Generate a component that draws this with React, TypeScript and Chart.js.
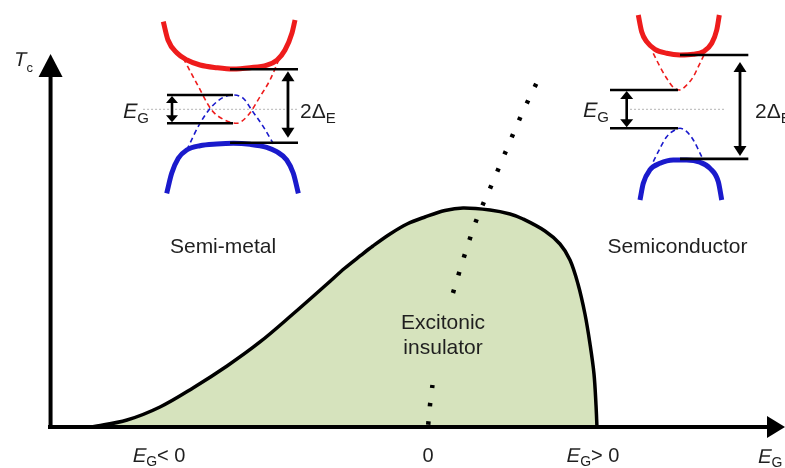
import React, { useEffect, useRef } from 'react';
import { Chart, registerables } from 'chart.js';

Chart.register(...registerables);

const FONT = '"Liberation Sans", Arial, Helvetica, sans-serif';
const INK = '#1f1f1f';
const RED = '#ee1c1c';
const BLUE = '#1a1acc';
const DOME_FILL = '#d6e3bd';

// ---- Phase diagram: T_c (normalised to the dome maximum) versus band gap E_G ----
const domeEG = [
  -2.1, -1.881, -1.675, -1.469, -1.256, -1.05, -0.844, -0.631, -0.519, -0.425,
  -0.344, -0.2375, -0.131, -0.019, 0.106, 0.219, 0.3875, 0.5125, 0.594, 0.731,
  0.825, 0.8875, 0.9375, 0.981, 1.0125, 1.0375, 1.05, 1.056,
];
const domeTc = [
  0, 0.0318, 0.0909, 0.1773, 0.2773, 0.3864, 0.5136, 0.65, 0.7227, 0.7773,
  0.8227, 0.8773, 0.9227, 0.9545, 0.9841, 0.9955, 0.9864, 0.9682, 0.9455, 0.8909,
  0.8318, 0.7591, 0.65, 0.5136, 0.3773, 0.2409, 0.1, 0,
];

// Crossover line (dotted), interrupted around the "Excitonic insulator" caption
const crossLowEG = [0, 0.0125, 0.028];
const crossLowTc = [0, 0.1, 0.191];
const crossHighEG = [0.156, 0.225, 0.3, 0.394, 0.4875, 0.581, 0.6875];
const crossHighTc = [0.609, 0.773, 0.936, 1.095, 1.255, 1.414, 1.577];

// Horizontal axis ticks: [symbol, subscript, rest]
const axisTickValues = [-1.684, 0, 1.028];
const axisTickLabels = [
  ['E', 'G', '< 0'],
  ['', '', '0'],
  ['E', 'G', '> 0'],
];

// ---- Inset band structures: energy E versus momentum k ----
// Semi-metal (negative gap)
const smCondK = [-1.041, -0.97, -0.833, -0.682, -0.485, -0.227, 0.015, 0.273, 0.53, 0.682, 0.803, 0.909, 0.955];
const smCondE = [2.368, 1.873, 1.522, 1.332, 1.197, 1.124, 1.089, 1.124, 1.197, 1.332, 1.603, 2.062, 2.414];
const smValK = [-0.989, -0.914, -0.814, -0.686, -0.485, -0.232, 0.02, 0.273, 0.526, 0.677, 0.829, 0.929, 1.005];
const smValE = [-2.27, -1.73, -1.324, -1.1, -0.984, -0.938, -0.919, -0.946, -1.027, -1.146, -1.37, -1.73, -2.27];
const smBareCondK = [-0.738, -0.535, -0.308, -0.132, 0.071, 0.247, 0.424, 0.576, 0.727];
const smBareCondE = [1.378, 0.703, -0.019, -0.27, -0.378, -0.154, 0.341, 0.792, 1.422];
const smBareValK = [-0.686, -0.485, -0.308, -0.132, 0.02, 0.171, 0.298, 0.474, 0.652];
const smBareValE = [-1.1, -0.378, 0.07, 0.324, 0.386, 0.297, -0.019, -0.47, -1.011];
const smGapEdges = [0.386, -0.378];
const smGapSpan = [-0.985, 0.015];
const smDeltaEdges = [1.081, -0.903];
const smDeltaSpan = [-0.03, 1.0];
const smFermiSpan = [-1.348, 0.985];

// Semiconductor (positive gap)
const scCondK = [-0.993, -0.908, -0.783, -0.575, -0.283, 0.05, 0.383, 0.633, 0.843, 0.968, 1.033];
const scCondE = [2.549, 2.097, 1.827, 1.622, 1.514, 1.468, 1.486, 1.557, 1.784, 2.143, 2.549];
const scValK = [-0.95, -0.868, -0.7, -0.45, -0.118, 0.218, 0.55, 0.8, 1.008, 1.093];
const scValE = [-2.451, -2.0, -1.635, -1.459, -1.37, -1.37, -1.432, -1.595, -1.957, -2.451];
const scBareCondK = [-0.618, -0.45, -0.283, -0.118, 0.033, 0.218, 0.383, 0.508, 0.65];
const scBareCondE = [1.514, 1.151, 0.838, 0.595, 0.522, 0.657, 0.881, 1.151, 1.468];
const scBareValK = [-0.618, -0.45, -0.283, -0.075, 0.05, 0.218, 0.383, 0.593];
const scBareValE = [-1.416, -1.054, -0.741, -0.559, -0.514, -0.605, -0.83, -1.281];
const scGapEdges = [0.522, -0.514];
const scGapSpan = [-1.7, 0.0];
const scDeltaEdges = [1.468, -1.34];
const scDeltaSpan = [0.05, 1.758];
const scFermiSpan = [-1.2, 1.175];

const pts = (xs: number[], ys: number[]) => xs.map((x, i) => ({ x, y: ys[i] }));
const hline = (span: number[], e: number) => [{ x: span[0], y: e }, { x: span[1], y: e }];

type Part = { text: string; italic?: boolean; sub?: boolean };

// Renders a run of text pieces; italic pieces are slanted with a shear so the
// look does not depend on an italic face being available.
function drawParts(
  ctx: CanvasRenderingContext2D,
  parts: Part[],
  x: number,
  y: number,
  size: number,
  subSize: number,
  subDrop: number,
  align: 'left' | 'center',
) {
  const fontOf = (p: Part) => `${p.sub ? subSize : size}px ${FONT}`;
  const widths = parts.map((p) => {
    ctx.font = fontOf(p);
    return ctx.measureText(p.text).width + (p.italic ? size * 0.06 : 0);
  });
  const total = widths.reduce((a, b) => a + b, 0);
  let cx = align === 'center' ? x - total / 2 : x;
  ctx.textAlign = 'left';
  ctx.textBaseline = 'alphabetic';
  parts.forEach((p, i) => {
    ctx.font = fontOf(p);
    const by = p.sub ? y + subDrop : y;
    if (p.italic) {
      ctx.save();
      ctx.translate(cx, by);
      ctx.transform(1, 0, -0.21, 1, 0, 0);
      ctx.fillText(p.text, 0, 0);
      ctx.restore();
    } else {
      ctx.fillText(p.text, cx, by);
    }
    cx += widths[i];
  });
}

function arrowHead(
  ctx: CanvasRenderingContext2D,
  tx: number,
  ty: number,
  ux: number,
  uy: number,
  len: number,
  half: number,
) {
  const bx = tx - ux * len;
  const by = ty - uy * len;
  ctx.beginPath();
  ctx.moveTo(tx, ty);
  ctx.lineTo(bx - uy * half, by + ux * half);
  ctx.lineTo(bx + uy * half, by - ux * half);
  ctx.closePath();
  ctx.fill();
}

function doubleArrow(
  ctx: CanvasRenderingContext2D,
  x: number,
  yTop: number,
  yBottom: number,
  len: number,
  half: number,
  width: number,
) {
  ctx.lineWidth = width;
  ctx.beginPath();
  ctx.moveTo(x, yTop + len - 1);
  ctx.lineTo(x, yBottom - len + 1);
  ctx.stroke();
  arrowHead(ctx, x, yTop, 0, -1, len, half);
  arrowHead(ctx, x, yBottom, 0, 1, len, half);
}

const overlay = {
  id: 'phaseDiagramOverlay',
  afterDatasetsDraw(chart: any) {
    const { ctx, scales } = chart;
    const X = (v: number) => scales.x.getPixelForValue(v);
    const Y = (v: number) => scales.y.getPixelForValue(v);
    const KL = (v: number) => scales.kL.getPixelForValue(v);
    const KR = (v: number) => scales.kR.getPixelForValue(v);
    const E = (v: number) => scales.e.getPixelForValue(v);

    ctx.save();
    ctx.fillStyle = '#000';
    ctx.strokeStyle = '#000';
    ctx.lineCap = 'butt';

    // Main axes with arrow heads
    const y0 = Y(0);
    const xAxisEnd = X(2.23125);
    ctx.lineWidth = 4;
    ctx.beginPath();
    ctx.moveTo(X(-2.375), y0);
    ctx.lineTo(xAxisEnd - 17, y0);
    ctx.stroke();
    arrowHead(ctx, xAxisEnd, y0, 1, 0, 18, 11);

    const yAxisX = X(-2.359);
    const yAxisTop = Y(1.695);
    ctx.beginPath();
    ctx.moveTo(yAxisX, y0 + 2);
    ctx.lineTo(yAxisX, yAxisTop + 22);
    ctx.stroke();
    arrowHead(ctx, yAxisX, yAxisTop, 0, -1, 23, 12);

    // Gap and hybridisation-gap arrows in the insets
    doubleArrow(ctx, KL(-0.909), E(smGapEdges[0]) + 1, E(smGapEdges[1]) - 1, 7, 6, 2.6);
    doubleArrow(ctx, KL(0.848), E(smDeltaEdges[0]) + 2, E(smDeltaEdges[1]) - 5, 10, 6.5, 2.8);
    doubleArrow(ctx, KR(-1.283), E(scGapEdges[0]) + 1, E(scGapEdges[1]) - 1, 8, 6.5, 2.6);
    doubleArrow(ctx, KR(1.55), E(scDeltaEdges[0]) + 7, E(scDeltaEdges[1]) - 3, 10, 6.5, 2.8);

    // Text
    ctx.fillStyle = INK;
    drawParts(ctx, [{ text: 'T', italic: true }, { text: 'c', sub: true }], X(-2.594), Y(1.641), 20, 13, 6, 'left');
    drawParts(ctx, [{ text: 'E', italic: true }, { text: 'G', sub: true }], X(2.056), Y(-0.164), 20, 14, 4, 'left');
    axisTickValues.forEach((v, i) => {
      const [sym, sub, rest] = axisTickLabels[i];
      const parts: Part[] = [];
      if (sym) parts.push({ text: sym, italic: true });
      if (sub) parts.push({ text: sub, sub: true });
      parts.push({ text: rest });
      drawParts(ctx, parts, X(v), Y(-0.159), 20, 14, 4, 'center');
    });

    drawParts(ctx, [{ text: 'Semi-metal' }], X(-1.281), Y(0.791), 21, 14, 0, 'center');
    drawParts(ctx, [{ text: 'Semiconductor' }], X(1.559), Y(0.791), 21, 14, 0, 'center');
    drawParts(ctx, [{ text: 'Excitonic' }], X(0.094), Y(0.445), 21, 14, 0, 'center');
    drawParts(ctx, [{ text: 'insulator' }], X(0.094), Y(0.332), 21, 14, 0, 'center');

    drawParts(ctx, [{ text: 'E', italic: true }, { text: 'G', sub: true }], KL(-1.667), E(-0.235), 21, 15, 5, 'left');
    drawParts(ctx, [{ text: '2Δ' }, { text: 'E', sub: true }], KL(1.03), E(-0.235), 21, 15, 5, 'left');
    drawParts(ctx, [{ text: 'E', italic: true }, { text: 'G', sub: true }], KR(-2.4), E(-0.208), 21, 15, 5, 'left');
    drawParts(ctx, [{ text: '2Δ' }, { text: 'E', sub: true }], KR(1.925), E(-0.235), 21, 15, 5, 'left');

    ctx.restore();
  },
};

const levelLine = (data: any[], xAxisID: string) => ({
  data,
  xAxisID,
  yAxisID: 'e',
  borderColor: '#000',
  borderWidth: 2.6,
  pointRadius: 0,
  fill: false,
});

const band = (data: any[], xAxisID: string, color: string, thick: boolean) => ({
  data,
  xAxisID,
  yAxisID: 'e',
  borderColor: color,
  borderWidth: thick ? 5 : 1.6,
  borderDash: thick ? [] : [5, 3.5],
  cubicInterpolationMode: 'monotone' as const,
  pointRadius: 0,
  fill: false,
});

const fermiLine = (span: number[], xAxisID: string) => ({
  data: hline(span, 0),
  xAxisID,
  yAxisID: 'e',
  borderColor: '#b5b5b5',
  borderWidth: 1,
  borderDash: [2, 2],
  pointRadius: 0,
  fill: false,
});

export default function App() {
  const canvasRef = useRef<HTMLCanvasElement>(null);

  useEffect(() => {
    if (!canvasRef.current) return;
    const datasets: any[] = [
      // level lines (drawn on top)
      levelLine(hline(smGapSpan, smGapEdges[0]), 'kL'),
      levelLine(hline(smGapSpan, smGapEdges[1]), 'kL'),
      levelLine(hline(smDeltaSpan, smDeltaEdges[0]), 'kL'),
      levelLine(hline(smDeltaSpan, smDeltaEdges[1]), 'kL'),
      levelLine(hline(scGapSpan, scGapEdges[0]), 'kR'),
      levelLine(hline(scGapSpan, scGapEdges[1]), 'kR'),
      levelLine(hline(scDeltaSpan, scDeltaEdges[0]), 'kR'),
      levelLine(hline(scDeltaSpan, scDeltaEdges[1]), 'kR'),
      // hybridised bands
      band(pts(smCondK, smCondE), 'kL', RED, true),
      band(pts(smValK, smValE), 'kL', BLUE, true),
      band(pts(scCondK, scCondE), 'kR', RED, true),
      band(pts(scValK, scValE), 'kR', BLUE, true),
      // bare bands
      band(pts(smBareCondK, smBareCondE), 'kL', RED, false),
      band(pts(smBareValK, smBareValE), 'kL', BLUE, false),
      band(pts(scBareCondK, scBareCondE), 'kR', RED, false),
      band(pts(scBareValK, scBareValE), 'kR', BLUE, false),
      // chemical potential
      fermiLine(smFermiSpan, 'kL'),
      fermiLine(scFermiSpan, 'kR'),
      // crossover line
      {
        data: pts(crossHighEG, crossHighTc),
        borderColor: '#000',
        borderWidth: 4.5,
        borderDash: [3.5, 15],
        borderCapStyle: 'butt',
        cubicInterpolationMode: 'monotone',
        pointRadius: 0,
        fill: false,
      },
      {
        data: pts(crossLowEG, crossLowTc),
        borderColor: '#000',
        borderWidth: 4.5,
        borderDash: [3.5, 15],
        borderDashOffset: 16.25,
        borderCapStyle: 'butt',
        pointRadius: 0,
        fill: false,
      },
      // excitonic-insulator dome
      {
        data: pts(domeEG, domeTc),
        borderColor: '#000',
        borderWidth: 3.5,
        backgroundColor: DOME_FILL,
        fill: 'origin',
        tension: 0.35,
        pointRadius: 0,
      },
    ];

    const chart = new Chart(canvasRef.current, {
      type: 'line',
      data: { datasets },
      options: {
        animation: false,
        responsive: false,
        devicePixelRatio: 1,
        events: [],
        layout: { padding: 0 },
        plugins: {
          legend: { display: false },
          tooltip: { enabled: false },
        },
        scales: {
          x: { type: 'linear', display: false, min: -2.675, max: 2.23125 },
          y: { type: 'linear', display: false, min: -0.18636, max: 1.94091 },
          kL: { type: 'linear', axis: 'x', display: false, min: -3.51515, max: 8.37879 },
          kR: { type: 'linear', axis: 'x', display: false, min: -16.95, max: 2.675 },
          e: { type: 'linear', axis: 'y', display: false, min: -9.69459, max: 2.95405 },
        },
      } as any,
      plugins: [overlay],
    });
    return () => chart.destroy();
  }, []);

  return (
    <div style={{ position: 'absolute', left: 0, top: 0, width: 785, height: 468, background: '#fff' }}>
      <canvas ref={canvasRef} width={785} height={468} style={{ display: 'block' }} />
    </div>
  );
}
